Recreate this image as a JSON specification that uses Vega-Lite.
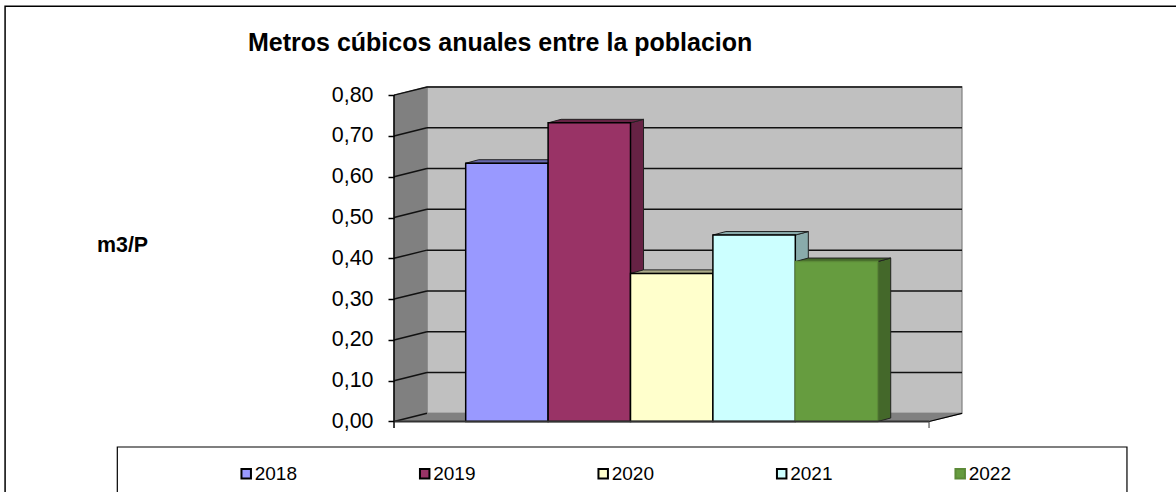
{
"$schema":"https://vega.github.io/schema/vega-lite/v6.json",
"width":1176,"height":492,"autosize":{"type":"none"},"padding":0,"background":"white",
"title":{"text":"Metros cúbicos anuales entre la poblacion","anchor":"start","frame":"group","offset":-55.5,"dx":248,"fontSize":25,"font":"Liberation Sans","fontWeight":"bold","color":"black"},
"config":{"view":{"stroke":null},"font":"Liberation Sans"},
"datasets":{
"bars":[{"year":"2018","i":0,"value":0.633},{"year":"2019","i":1,"value":0.732},{"year":"2020","i":2,"value":0.363},{"year":"2021","i":3,"value":0.457},{"year":"2022","i":4,"value":0.392}],
"ticks":[{"t":0},{"t":0.1},{"t":0.2},{"t":0.3},{"t":0.4},{"t":0.5},{"t":0.6},{"t":0.7},{"t":0.8}],
"ends":[{"k":0},{"k":1}]
},
"layer":[
{"data":{"values":[{}]},"mark":{"type":"rect","fill":"transparent","stroke":"black","strokeWidth":1.5},
 "encoding":{"x":{"datum":-5.59,"type":"quantitative","scale":{"domain":[-5.6517,8.6201],"nice":false,"zero":false},"axis":null},"x2":{"datum":8.9},
 "y":{"datum":1.018,"type":"quantitative","scale":{"domain":[-0.1728,1.0331],"nice":false,"zero":false},
  "axis":{"zindex":1,"values":[0,0.1,0.2,0.3,0.4,0.5,0.6,0.7,0.8],"domain":false,"grid":false,"offset":-394,"tickSize":6,"tickColor":"black","tickWidth":1.5,"labelFontSize":21.4,"labelColor":"black","labelPadding":15,"labelExpr":"replace(format(datum.value,'.2f'),'.',',')","title":"m3/P","titleAngle":0,"titleX":-297.5,"titleY":245,"titleAlign":"left","titleBaseline":"middle","titleFontSize":21.4,"titleFontWeight":"bold","titleColor":"black"}},"y2":{"datum":-0.25}}},
{"data":{"values":[{}]},"mark":{"type":"rect","fill":"transparent","stroke":"black","strokeWidth":1.2},
 "encoding":{"x":{"datum":-4.228,"type":"quantitative"},"x2":{"datum":8.025},"y":{"datum":-0.0625,"type":"quantitative"},"y2":{"datum":-0.25}}},
{"data":{"values":[{}]},"mark":{"type":"rect","fill":"#C0C0C0","stroke":"#808080","strokeWidth":1.2},
 "encoding":{"x":{"datum":-0.47,"type":"quantitative"},"x2":{"datum":6.023},"y":{"datum":0.02,"type":"quantitative"},"y2":{"datum":0.82}}},
{"data":{"name":"ends"},"transform":[{"calculate":"-0.87+0.4*datum.k","as":"x"},{"calculate":"0.02*datum.k","as":"y"},{"calculate":"0.8+0.02*datum.k","as":"y2"}],
 "mark":{"type":"area","fill":"#808080","stroke":"#808080","strokeWidth":1,"orient":"vertical"},
 "encoding":{"x":{"field":"x","type":"quantitative"},"y":{"field":"y","type":"quantitative"},"y2":{"field":"y2"}}},
{"data":{"name":"ends"},"transform":[{"calculate":"-0.87+0.4*datum.k","as":"x"},{"calculate":"5.623+0.4*datum.k","as":"x2"},{"calculate":"0.02*datum.k","as":"y"}],
 "mark":{"type":"area","fill":"#808080","stroke":"#808080","strokeWidth":1,"orient":"horizontal"},
 "encoding":{"y":{"field":"y","type":"quantitative"},"x":{"field":"x","type":"quantitative"},"x2":{"field":"x2"}}},
{"data":{"name":"ticks"},"transform":[{"filter":"datum.t>0"},{"calculate":"datum.t+0.02","as":"b"}],
 "mark":{"type":"rule","stroke":"#111111","strokeWidth":1.5},
 "encoding":{"x":{"datum":-0.47,"type":"quantitative"},"x2":{"datum":6.023},"y":{"field":"b","type":"quantitative"}}},
{"data":{"name":"ticks"},"transform":[{"calculate":"datum.t+0.02","as":"b"},{"calculate":"-0.87","as":"xa"},{"calculate":"-0.47","as":"xb"}],
 "mark":{"type":"rule","stroke":"#111111","strokeWidth":1.5},
 "encoding":{"x":{"field":"xa","type":"quantitative"},"x2":{"field":"xb"},"y":{"field":"t","type":"quantitative"},"y2":{"field":"b"}}},
{"data":{"name":"ends"},"transform":[{"calculate":"5.623+0.4*datum.k","as":"x"},{"calculate":"0.02*datum.k","as":"y"}],
 "mark":{"type":"line","stroke":"black","strokeWidth":1.2},
 "encoding":{"x":{"field":"x","type":"quantitative"},"y":{"field":"y","type":"quantitative"}}},
{"data":{"name":"bars"},"transform":[{"calculate":"[0,1]","as":"k"},{"flatten":["k"]},{"calculate":"datum.i+1+0.158*datum.k","as":"x"},{"calculate":"0.0086*datum.k","as":"y"},{"calculate":"datum.value+0.0086*datum.k","as":"y2"}],
 "mark":{"type":"area","orient":"vertical"},
 "encoding":{"x":{"field":"x","type":"quantitative"},"y":{"field":"y","type":"quantitative"},"y2":{"field":"y2"},"detail":{"field":"year"},"fill":{"field":"year","type":"nominal"}}},
{"data":{"name":"bars"},"transform":[{"calculate":"[0,1]","as":"k"},{"flatten":["k"]},{"calculate":"datum.i+1+0.158*datum.k","as":"x"},{"calculate":"0.0086*datum.k","as":"y"},{"calculate":"datum.value+0.0086*datum.k","as":"y2"}],
 "mark":{"type":"area","orient":"vertical","fill":"black","fillOpacity":0.33,"stroke":"#222222","strokeWidth":1},
 "encoding":{"x":{"field":"x","type":"quantitative"},"y":{"field":"y","type":"quantitative"},"y2":{"field":"y2"},"detail":{"field":"year"}}},
{"data":{"name":"bars"},"transform":[{"calculate":"[0,1]","as":"k"},{"flatten":["k"]},{"calculate":"datum.i+0.158*datum.k","as":"x"},{"calculate":"datum.i+1+0.158*datum.k","as":"x2"},{"calculate":"datum.value+0.0086*datum.k","as":"y"}],
 "mark":{"type":"area","orient":"horizontal"},
 "encoding":{"y":{"field":"y","type":"quantitative"},"x":{"field":"x","type":"quantitative"},"x2":{"field":"x2"},"detail":{"field":"year"},"fill":{"field":"year","type":"nominal"}}},
{"data":{"name":"bars"},"transform":[{"calculate":"[0,1]","as":"k"},{"flatten":["k"]},{"calculate":"datum.i+0.158*datum.k","as":"x"},{"calculate":"datum.i+1+0.158*datum.k","as":"x2"},{"calculate":"datum.value+0.0086*datum.k","as":"y"}],
 "mark":{"type":"area","orient":"horizontal","fill":"black","fillOpacity":0.33,"stroke":"#222222","strokeWidth":1},
 "encoding":{"y":{"field":"y","type":"quantitative"},"x":{"field":"x","type":"quantitative"},"x2":{"field":"x2"},"detail":{"field":"year"}}},
{"data":{"name":"bars"},"transform":[{"calculate":"datum.i+1","as":"xe"}],
 "mark":{"type":"rect","strokeWidth":1.5},
 "encoding":{"x":{"field":"i","type":"quantitative"},"x2":{"field":"xe"},"y":{"field":"value","type":"quantitative"},"y2":{"datum":0},
  "fill":{"field":"year","type":"nominal","title":null,"scale":{"domain":["2018","2019","2020","2021","2022"],"range":["#9999FF","#993366","#FFFFCC","#CCFFFF","#669C3F"]},
   "legend":{"orient":"none","legendX":236.7,"legendY":464,"direction":"horizontal","columns":5,"symbolType":"square","symbolSize":90,"symbolStrokeWidth":2,"labelFontSize":19,"labelColor":"black","labelOffset":-1,"columnPadding":117.5,"gridAlign":"all","title":null}},
  "stroke":{"field":"year","type":"nominal","title":null,"scale":{"domain":["2018","2019","2020","2021","2022"],"range":["black","black","black","black","#5C8A38"]}}}},
{"data":{"values":[{}]},"mark":{"type":"rule","stroke":"black","strokeWidth":1.5},
 "encoding":{"x":{"datum":-0.87,"type":"quantitative"},"y":{"datum":0.8,"type":"quantitative"},"y2":{"datum":-0.016}}},
{"data":{"values":[{}]},"mark":{"type":"rule","stroke":"#333333","strokeWidth":2},
 "encoding":{"x":{"datum":-0.87,"type":"quantitative"},"x2":{"datum":5.623},"y":{"datum":0,"type":"quantitative"}}},
{"data":{"values":[{}]},"mark":{"type":"rule","stroke":"#555555","strokeWidth":1.2},
 "encoding":{"x":{"datum":5.623,"type":"quantitative"},"y":{"datum":0,"type":"quantitative"},"y2":{"datum":-0.016}}}
]
}
